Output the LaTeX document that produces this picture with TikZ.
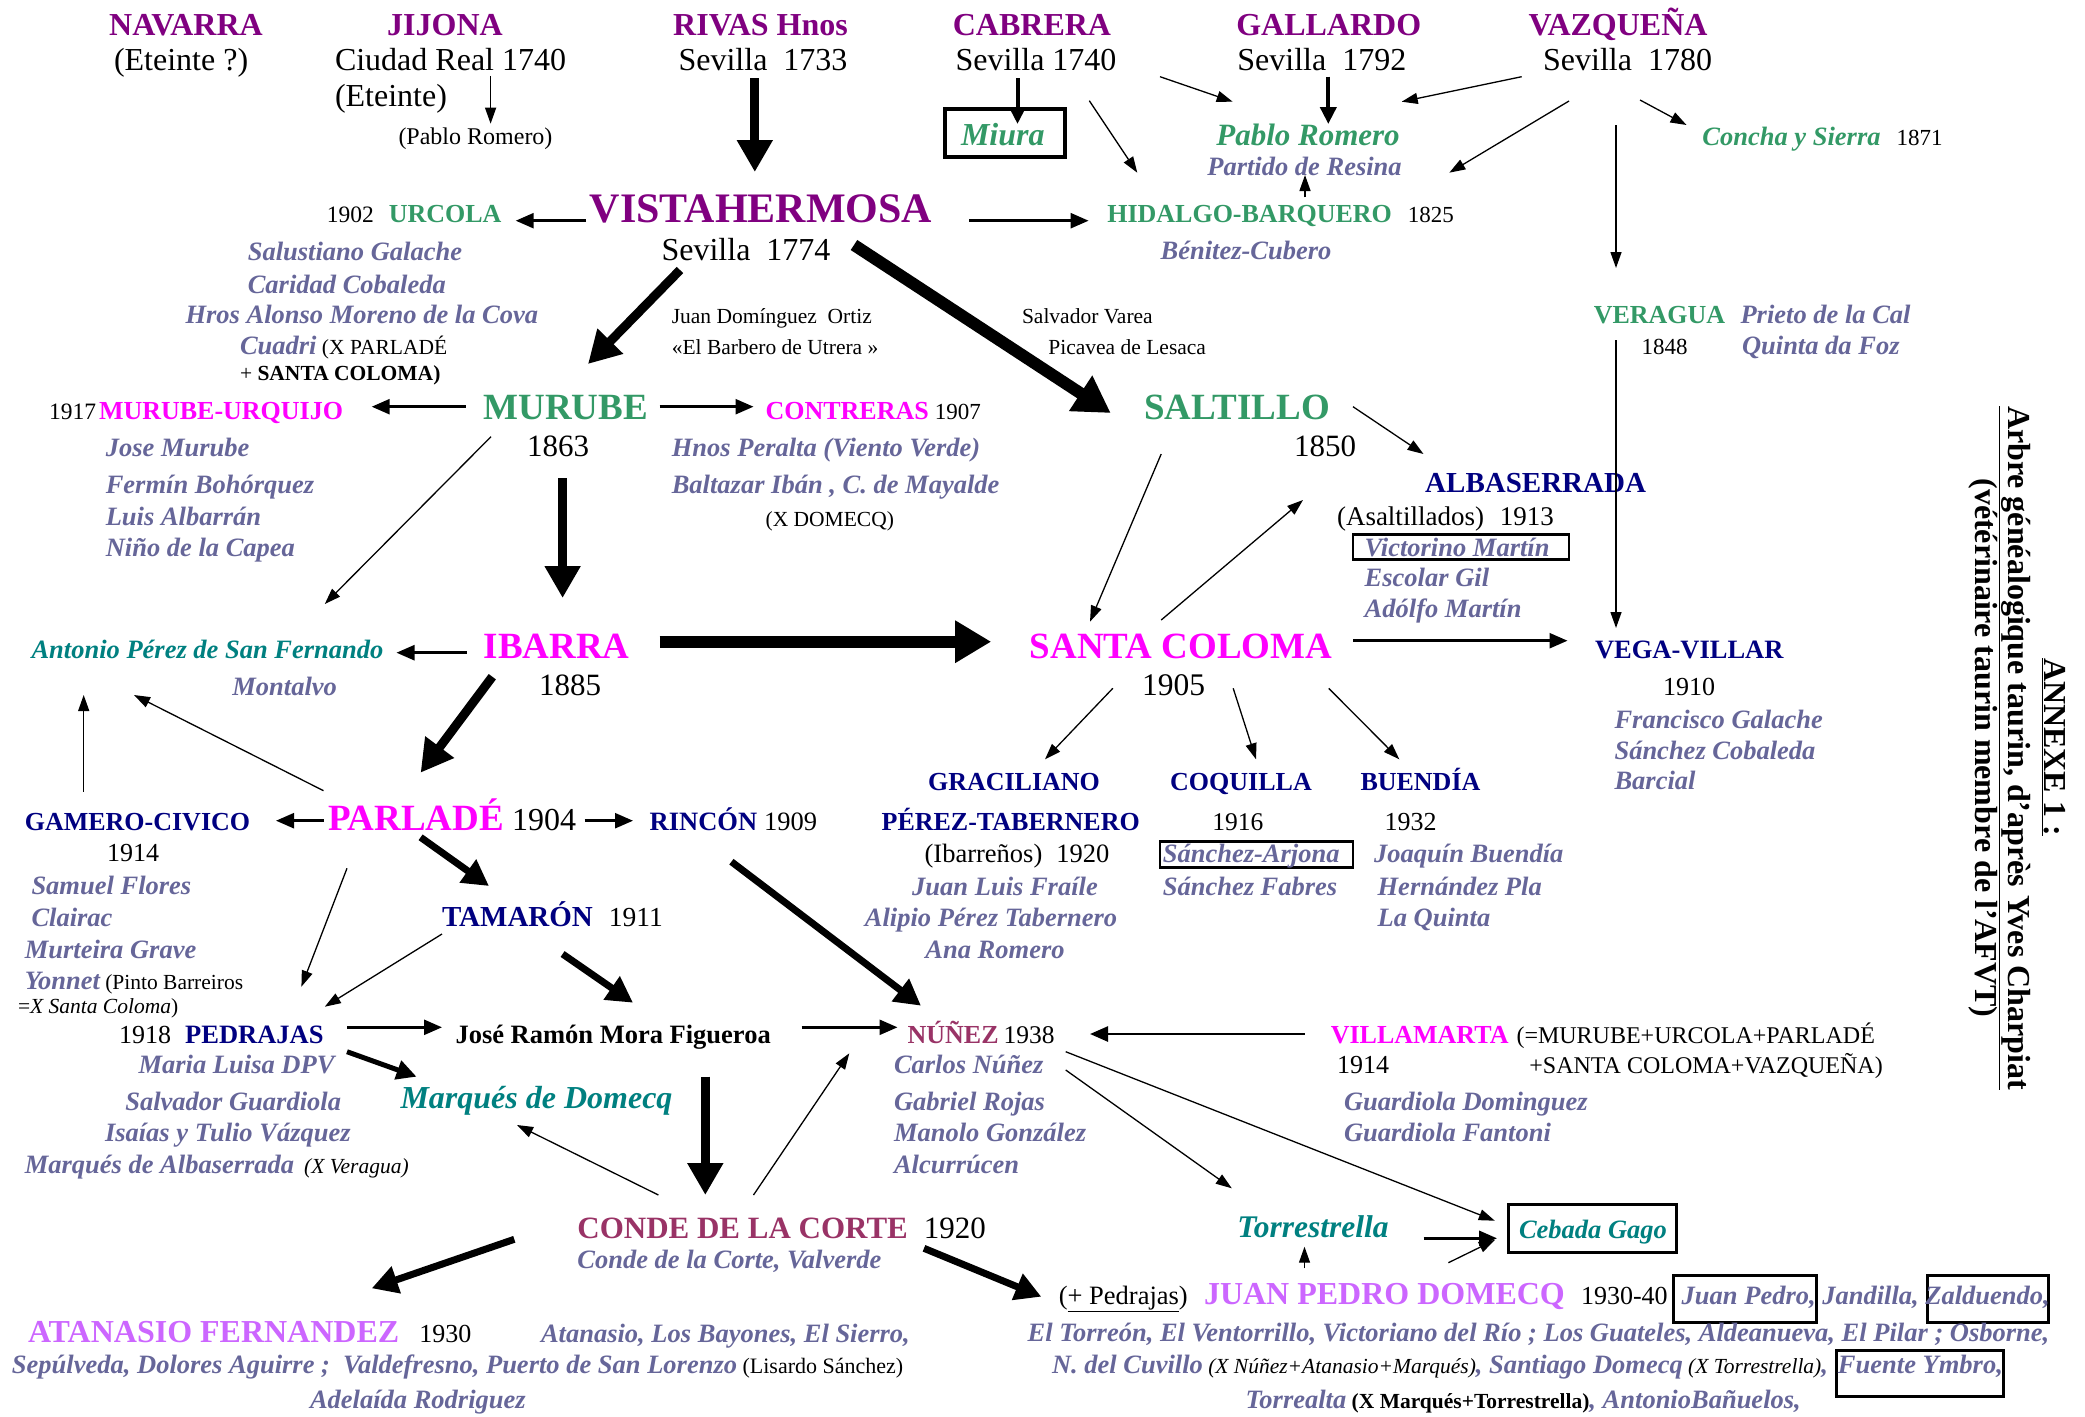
\documentclass[tikz,border=0pt]{standalone}
\usepackage{fontspec}
\setmainfont{Liberation Serif}
\usetikzlibrary{arrows.meta}
\definecolor{cpurp}{HTML}{800080}
\definecolor{cgreen}{HTML}{339966}
\definecolor{cgray}{HTML}{666699}
\definecolor{cmag}{HTML}{FF00FF}
\definecolor{cnavy}{HTML}{000080}
\definecolor{cteal}{HTML}{008080}
\definecolor{cplum}{HTML}{993366}
\definecolor{cviol}{HTML}{CC66FF}
\newcommand\fs[1]{\fontsize{#1}{#1}\selectfont}
\newcommand\BI{\bfseries\itshape}
\newcommand\gi[1]{{\fs{26.5}\BI\color{cgray}#1}}
\tikzset{
  L/.style={anchor=base west},
  C/.style={anchor=base},
  top/.style={C,font=\fs{32}\bfseries,text=cpurp},
  reg/.style={font=\fs{32}},
  gname/.style={L,font=\fs{26.5}\BI,text=cgray},
  boxd/.style={draw,line width=2.5pt,inner sep=0pt},
  thinA/.style={-{Triangle[length=16pt,width=11pt]},line width=1.3pt},
  medA/.style={-{Triangle[length=18pt,width=15pt]},line width=2.5pt},
  medthA/.style={-{Triangle[length=17pt,width=16pt]},line width=4pt},
  semiA/.style={-{Triangle[length=20pt,width=19pt]},line width=5pt},
  thickB/.style={-{Triangle[length=26pt,width=27pt]},line width=7pt},
  thickA/.style={-{Triangle[length=32pt,width=34pt]},line width=9pt},
  vthickA/.style={-{Triangle[length=36pt,width=40pt]},line width=12pt},
}
\begin{document}
\begin{tikzpicture}[x=1pt,y=-1pt,every node/.style={inner sep=0pt,outer sep=0pt}]
\useasboundingbox (0,0) rectangle (2085,1416);
% ---------- top row
\node[top] (navarra) at (186,35) {NAVARRA};
\node[L,reg] (eteinteA) at (114,70) {(Eteinte ?)};
\node[top] (jijona) at (445,35) {JIJONA};
\node[L,reg] (ciudad) at (335,70) {Ciudad Real 1740};
\node[L,reg] (eteinteB) at (335,106.7) {(Eteinte)};
\node[L,font=\fs{24}] (pabloold) at (398.5,144) {(Pablo Romero)};
\node[top] (rivas) at (760.5,35) {RIVAS Hnos};
\node[C,reg] (sev1733) at (763,70) {Sevilla\ \ 1733};
\node[top] (cabrera) at (1032,35) {CABRERA};
\node[C,reg] (sev1740) at (1036,70) {Sevilla 1740};
\node[top] (gallardo) at (1328.7,35) {GALLARDO};
\node[C,reg] (sev1792) at (1321.8,70) {Sevilla\ \ 1792};
\node[top] (vazquena) at (1618,35) {VAZQUEÑA};
\node[C,reg] (sev1780) at (1627.6,70) {Sevilla\ \ 1780};
% ---------- second level
\node[boxd,line width=3.5pt,minimum width=120pt,minimum height=48pt] (miurabox) at (1005,133) {};
\node[L,font=\fs{32}\BI,text=cgreen] (miura) at (961,145) {Miura};
\node[C,font=\fs{31}\BI,text=cgreen] (pabloromero) at (1308,145) {Pablo Romero};
\node[C,font=\fs{26.5}\BI,text=cgray] (partido) at (1304.5,175.7) {Partido de Resina};
\node[L] (concha) at (1702.4,145) {{\fs{26.5}\BI\color{cgreen}Concha y Sierra}\hspace{16pt}{\fs{23}1871}};
\node[C,font=\fs{42}\bfseries,text=cpurp] (vista) at (761,222.7) {VISTAHERMOSA};
\node[C,reg] (sev1774) at (746,260) {Sevilla\ \ 1774};
\node[L] (urcola) at (326.8,222.7) {{\fs{23.5}1902}\hspace{15pt}{\fs{26}\bfseries\color{cgreen}URCOLA}};
\node[L] (hidalgo) at (1107.3,222.7) {{\fs{26}\bfseries\color{cgreen}HIDALGO-BARQUERO}\hspace{16pt}{\fs{23}1825}};
\node[C,font=\fs{26.5}\BI,text=cgray] (benitez) at (1246,259.3) {Bénitez-Cubero};
\node[gname] (salustiano) at (247.8,260) {Salustiano Galache};
\node[gname] (caridad) at (247.8,293) {Caridad Cobaleda};
\node[gname] (hros) at (185.5,323) {Hros Alonso Moreno de la Cova};
\node[L,font=\fs{21.5}] (cuadri) at (240,354) {\gi{Cuadri} (X PARLADÉ};
\node[L,font=\fs{21.5}] (santacolA) at (240,380) {+ \textbf{SANTA COLOMA)}};
\node[L,font=\fs{21.5}] (juandom) at (671.8,323) {Juan Domínguez\ \ Ortiz};
\node[L,font=\fs{21.5}] (barbero) at (671.8,354) {«El Barbero de Utrera »};
\node[L,font=\fs{21.5}] (salvador) at (1022,323.3) {Salvador Varea};
\node[L,font=\fs{21.5}] (picavea) at (1048.4,354) {Picavea de Lesaca};
\node[L,font=\fs{26}\bfseries,text=cgreen] (veragua) at (1593.8,323.3) {VERAGUA};
\node[gname] (prieto) at (1740.5,323.3) {Prieto de la Cal};
\node[L,font=\fs{23}] (y1848) at (1641.5,354) {1848};
\node[gname] (quinta) at (1742,354) {Quinta da Foz};
% ---------- MURUBE level
\node[L] (murubeurq) at (49,419.3) {{\fs{23.5}1917}\hspace{3pt}{\fs{26}\bfseries\color{cmag}MURUBE-URQUIJO}};
\node[C,font=\fs{37}\bfseries,text=cgreen] (murube) at (565.6,419.3) {MURUBE};
\node[C,font=\fs{31}] (y1863) at (558,456) {1863};
\node[L] (contreras) at (765.6,419.3) {{\fs{26}\bfseries\color{cmag}CONTRERAS}\hspace{6pt}{\fs{23}1907}};
\node[gname] (hnos) at (671.8,456.7) {Hnos Peralta (Viento Verde)};
\node[gname] (baltazar) at (671.8,493) {Baltazar Ibán , C. de Mayalde};
\node[L,font=\fs{21.5}] (xdomecq) at (765.6,526.7) {(X DOMECQ)};
\node[gname] (josemurube) at (105.8,456.7) {Jose Murube};
\node[gname] (fermin) at (105.8,493) {Fermín Bohórquez};
\node[gname] (luis) at (105.8,525.7) {Luis Albarrán};
\node[gname] (nino) at (105.8,556) {Niño de la Capea};
\node[C,font=\fs{37}\bfseries,text=cgreen] (saltillo) at (1237,419.3) {SALTILLO};
\node[C,font=\fs{31}] (y1850) at (1325,456) {1850};
\node[C,font=\fs{29}\bfseries,text=cnavy] (albaserrada) at (1535.6,492.7) {ALBASERRADA};
\node[L,font=\fs{27}] (asaltillados) at (1337,525.7) {(Asaltillados)\hspace{16pt}1913};
\node[boxd,minimum width=216pt,minimum height=25pt] (victbox) at (1461,547) {};
\node[gname] (victorino) at (1364.7,556) {Victorino Martín};
\node[gname] (escolar) at (1364.7,586.7) {Escolar Gil};
\node[gname] (adolfo) at (1364.7,617.3) {Adólfo Martín};
% ---------- IBARRA level
\node[L,font=\fs{26.5}\BI,text=cteal] (antonio) at (31.5,658.3) {Antonio Pérez de San Fernando};
\node[gname] (montalvo) at (232.4,695) {Montalvo};
\node[C,font=\fs{37}\bfseries,text=cmag] (ibarra) at (556.6,658.3) {IBARRA};
\node[C,font=\fs{31}] (y1885) at (570,695) {1885};
\node[C,font=\fs{37}\bfseries,text=cmag] (santacoloma) at (1181,658.3) {SANTA COLOMA};
\node[C,font=\fs{31.5}] (y1905) at (1173.7,695) {1905};
\node[L,font=\fs{26.5}\bfseries,text=cnavy] (vegavillar) at (1595,658.3) {VEGA-VILLAR};
\node[C,font=\fs{26}] (y1910) at (1689,695) {1910};
\node[gname] (francisco) at (1614.5,728.3) {Francisco Galache};
\node[gname] (sanchezcob) at (1614.5,759.3) {Sánchez Cobaleda};
\node[gname] (barcial) at (1614.5,789.3) {Barcial};
% ---------- GRACILIANO / COQUILLA / BUENDIA
\node[C,font=\fs{26}\bfseries,text=cnavy] (graciliano) at (1014,790) {GRACILIANO};
\node[C,font=\fs{26}\bfseries,text=cnavy] (coquilla) at (1241,790) {COQUILLA};
\node[L,font=\fs{26}\bfseries,text=cnavy] (buendia) at (1360.5,790) {BUENDÍA};
\node[C,font=\fs{26}\bfseries,text=cnavy] (pereztab) at (1010.7,830.7) {PÉREZ-TABERNERO};
\node[C,font=\fs{25.5}] (y1916) at (1237.8,830.7) {1916};
\node[C,font=\fs{26}] (y1932) at (1410.5,830.7) {1932};
\node[C,font=\fs{26.5}] (ibarrenos) at (1017,862.7) {(Ibarreños)\hspace{14pt}1920};
\node[boxd,minimum width=193pt,minimum height=26pt] (arjonabox) at (1256.7,854.7) {};
\node[gname] (arjona) at (1162.8,862.7) {Sánchez-Arjona};
\node[gname] (joaquin) at (1374.2,862.7) {Joaquín Buendía};
\node[C,font=\fs{26.5}\BI,text=cgray] (juanluis) at (1005,895) {Juan Luis Fraíle};
\node[gname] (sfabres) at (1162.8,895) {Sánchez Fabres};
\node[gname] (hpla) at (1377.6,895) {Hernández Pla};
\node[C,font=\fs{26.5}\BI,text=cgray] (alipio) at (991,926.7) {Alipio Pérez Tabernero};
\node[gname] (laquinta) at (1377.6,926.7) {La Quinta};
\node[C,font=\fs{26.5}\BI,text=cgray] (anaromero) at (995,958.3) {Ana Romero};
% ---------- PARLADE level
\node[L,font=\fs{26}\bfseries,text=cnavy] (gamero) at (24.8,830) {GAMERO-CIVICO};
\node[L,font=\fs{26}] (y1914a) at (107,861.7) {1914};
\node[gname] (samuel) at (31.5,894) {Samuel Flores};
\node[gname] (clairac) at (31.5,926) {Clairac};
\node[gname] (murteira) at (24.8,958.3) {Murteira Grave};
\node[L,font=\fs{21.5}] (yonnet) at (24.8,989) {\gi{Yonnet} (Pinto Barreiros};
\node[L,font=\fs{21.5}] (xsanta) at (18,1013.3) {=\textit{X Santa Coloma})};
\node[L] (parlade) at (328,830) {{\fs{37}\bfseries\color{cmag}PARLADÉ}\hspace{8pt}{\fs{32}1904}};
\node[L] (rincon) at (649.7,830) {{\fs{26.5}\bfseries\color{cnavy}RINCÓN}\hspace{7pt}{\fs{26.5}1909}};
\node[L] (tamaron) at (442,926) {{\fs{29}\bfseries\color{cnavy}TAMARÓN}\hspace{16pt}{\fs{27.5}1911}};
\node[L] (pedrajas) at (119.2,1043.3) {{\fs{26}1918}\hspace{14pt}{\fs{26.5}\bfseries\color{cnavy}PEDRAJAS}};
\node[L,font=\fs{26.5}\bfseries] (jrmf) at (455.5,1043.3) {José Ramón Mora Figueroa};
\node[L] (nunez) at (907.6,1043.3) {{\fs{26}\bfseries\color{cplum}NÚÑEZ}\hspace{5pt}{\fs{25.5}1938}};
\node[L] (villamarta) at (1330.8,1043.3) {{\fs{26}\bfseries\color{cmag}VILLAMARTA}\hspace{8pt}{\fs{24}(=MURUBE+URCOLA+PARLADÉ}};
\node[L,font=\fs{26}] (y1914b) at (1337,1073.3) {1914};
\node[L,font=\fs{24}] (scvaz) at (1529.4,1073.3) {+SANTA COLOMA+VAZQUEÑA)};
\node[gname] (marialuisa) at (138.6,1073.3) {Maria Luisa DPV};
\node[gname] (salvadorg) at (125.3,1110) {Salvador Guardiola};
\node[gname] (isaias) at (105,1141.7) {Isaías y Tulio Vázquez};
\node[L,font=\fs{21.5}] (marqalb) at (24.8,1173.3) {\gi{Marqués de Albaserrada}\hspace{10pt}\textit{(X Veragua)}};
\node[L,font=\fs{32}\BI,text=cteal] (marquesdom) at (400.5,1108.3) {Marqués de Domecq};
\node[gname] (carlos) at (894,1073.3) {Carlos Núñez};
\node[gname] (gabriel) at (894,1110) {Gabriel Rojas};
\node[gname] (manolo) at (894,1141.7) {Manolo González};
\node[gname] (alcurrucen) at (894,1173.3) {Alcurrúcen};
\node[gname] (gdominguez) at (1344,1110) {Guardiola Dominguez};
\node[gname] (gfantoni) at (1344,1141.7) {Guardiola Fantoni};
% ---------- bottom
\node[L] (conde) at (577.4,1238.3) {{\fs{31}\bfseries\color{cplum}CONDE DE LA CORTE}\hspace{16pt}{\fs{31}1920}};
\node[gname] (condevalv) at (577.4,1268.3) {Conde de la Corte, Valverde};
\node[L,font=\fs{31.5}\BI,text=cteal] (torrestrella) at (1237.4,1237.3) {Torrestrella};
\node[boxd,line width=3pt,minimum width=168pt,minimum height=48pt] (cebadabox) at (1592.5,1228.6) {};
\node[gname,text=cteal] (cebada) at (1519,1238.3) {Cebada Gago};
\node[L,font=\fs{26.5}] (pedrajasplus) at (1058.8,1304) {(\underline{+ Pedrajas})};
\node[L,font=\fs{32}\bfseries,text=cviol] (jpd) at (1204,1304) {JUAN PEDRO DOMECQ};
\node[L,font=\fs{26}] (y1930b) at (1581,1304) {1930-40};
\node[boxd,line width=3pt,minimum width=143pt,minimum height=47pt] (jpbox) at (1745,1298.5) {};
\node[boxd,line width=3pt,minimum width=121pt,minimum height=47pt] (zalbox) at (1987.5,1298.5) {};
\node[gname] (jpnames) at (1681.7,1304) {Juan Pedro, Jandilla, Zalduendo,};
\node[gname] (torreon) at (1027.7,1341.7) {El Torreón, El Ventorrillo, Victoriano del Río ; Los Guateles, Aldeanueva, El Pilar ; Osborne,};
\node[boxd,line width=3pt,minimum width=167pt,minimum height=46pt] (fuentebox) at (1919.5,1373) {};
\node[L,font=\fs{21.5}] (cuvillo) at (1052,1373.3) {\gi{N. del Cuvillo} \textit{(X Núñez+Atanasio+Marqués)}\gi{, Santiago Domecq} \textit{(X Torrestrella)}\gi{,\hspace{10pt}Fuente Ymbro,}};
\node[L,font=\fs{21.5}] (torrealta) at (1245.7,1408.3) {\gi{Torrealta} \textbf{(X Marqués+Torrestrella)}\gi{, AntonioBañuelos,}};
\node[L] (atanasio) at (28,1342.7) {{\fs{32}\bfseries\color{cviol}ATANASIO FERNANDEZ}\hspace{20pt}{\fs{26}1930}};
\node[gname] (atanasioB) at (541,1342.7) {Atanasio, Los Bayones, El Sierro,};
\node[L,font=\fs{22}] (sepulveda) at (12,1373.3) {\gi{Sepúlveda, Dolores Aguirre ;\ \ Valdefresno, Puerto de San Lorenzo} (Lisardo Sánchez)};
\node[gname] (adelaida) at (310,1408.3) {Adelaída Rodriguez};
% ---------- title (rotated)
\node[C,rotate=-90,font=\fs{32}\bfseries] (annexe) at (2044,747) {\underline{ANNEXE 1 :}};
\node[C,rotate=-90,font=\fs{32}\bfseries] (arbre) at (2008,748) {\underline{Arbre généalogique taurin, d’après Yves Charpiat}};
\node[C,rotate=-90,font=\fs{32}\bfseries] (veterinaire) at (1975,748) {(vétérinaire taurin membre de l’AFVT)};
% ---------- connector end points
\coordinate (a1s) at (490.6,75.8);   \coordinate (a1e) at (490.6,123.7);
\coordinate (a2s) at (754.8,78);     \coordinate (a2e) at (754.8,172);
\coordinate (a3s) at (1017.5,78);    \coordinate (a3e) at (1017.5,124);
\coordinate (a4s) at (1160,76.7);    \coordinate (a4e) at (1232.7,101.7);
\coordinate (a5s) at (1089.3,100.7); \coordinate (a5e) at (1137.3,172.7);
\coordinate (a6s) at (1328.3,76.7);  \coordinate (a6e) at (1328.3,124);
\coordinate (a7s) at (1521.7,76.7);  \coordinate (a7e) at (1401.7,101.7);
\coordinate (a8s) at (1569,101);     \coordinate (a8e) at (1449.3,172.7);
\coordinate (a9s) at (1305,197.3);   \coordinate (a9e) at (1305,175);
\coordinate (a10s) at (1640,100);    \coordinate (a10e) at (1686.5,125);
\coordinate (a11s) at (1616,125);    \coordinate (a11e) at (1616,268);
\coordinate (a12s) at (1616,340);    \coordinate (a12e) at (1616,628);
\coordinate (a13s) at (586,220.7);   \coordinate (a13e) at (515.7,220.7);
\coordinate (a14s) at (969,220.7);   \coordinate (a14e) at (1088.6,220.7);
\coordinate (a15s) at (680,270);     \coordinate (a15e) at (588,364);
\coordinate (a16s) at (854,245);     \coordinate (a16e) at (1110.7,413);
\coordinate (a17s) at (465.5,406.7); \coordinate (a17e) at (371.7,406.7);
\coordinate (a18s) at (659.7,406.7); \coordinate (a18e) at (753.5,406.7);
\coordinate (a19s) at (491,436.7);   \coordinate (a19e) at (324.8,604);
\coordinate (a20s) at (562.6,478);   \coordinate (a20e) at (562.6,598);
\coordinate (a21s) at (466.8,652.7); \coordinate (a21e) at (396.5,652.7);
\coordinate (a22s) at (659.7,641.7); \coordinate (a22e) at (991.2,641.7);
\coordinate (a23s) at (492.3,676.7); \coordinate (a23e) at (420.6,772.7);
\coordinate (a24s) at (323.5,790.7); \coordinate (a24e) at (134,695);
\coordinate (a25s) at (83.7,791.7);  \coordinate (a25e) at (83.7,695);
\coordinate (a26s) at (1353,406.7);  \coordinate (a26e) at (1423.5,454);
\coordinate (a27s) at (1161.2,454);  \coordinate (a27e) at (1090,621.7);
\coordinate (a28s) at (1161.2,620);  \coordinate (a28e) at (1303,500);
\coordinate (a29s) at (1353,640.7);  \coordinate (a29e) at (1567.5,640.7);
\coordinate (a30s) at (1112.8,688.3); \coordinate (a30e) at (1045,759.3);
\coordinate (a31s) at (1233.2,688.3); \coordinate (a31e) at (1256,759.3);
\coordinate (a32s) at (1328.7,688.3); \coordinate (a32e) at (1399.3,759.3);
\coordinate (a33s) at (323.5,820.7); \coordinate (a33e) at (276,820.7);
\coordinate (a34s) at (584.7,820.7); \coordinate (a34e) at (633,820.7);
\coordinate (a35s) at (420.6,837.3); \coordinate (a35e) at (489,886);
\coordinate (a36s) at (347,868.3);   \coordinate (a36e) at (301.4,986.7);
\coordinate (a37s) at (442,934);     \coordinate (a37e) at (324.8,1006.7);
\coordinate (a38s) at (562.6,954);   \coordinate (a38e) at (633,1002.7);
\coordinate (a39s) at (731.4,861.7); \coordinate (a39e) at (921,1005.7);
\coordinate (a40s) at (347,1027.3);  \coordinate (a40e) at (442,1027.3);
\coordinate (a41s) at (347,1051.7);  \coordinate (a41e) at (416.6,1076.7);
\coordinate (a42s) at (801.7,1027.3); \coordinate (a42e) at (897.5,1027.3);
\coordinate (a43s) at (705.3,1076.7); \coordinate (a43e) at (705.3,1195);
\coordinate (a44s) at (658.4,1195);  \coordinate (a44e) at (517,1125);
\coordinate (a45s) at (753.5,1195);  \coordinate (a45e) at (849.3,1053.3);
\coordinate (a46s) at (1304.5,1034); \coordinate (a46e) at (1090,1034);
\coordinate (a47s) at (1065.7,1070); \coordinate (a47e) at (1231.8,1188.3);
\coordinate (a48s) at (1065.7,1051.7); \coordinate (a48e) at (1494.8,1220.7);
\coordinate (a49s) at (1423.5,1238.3); \coordinate (a49e) at (1497,1238.3);
\coordinate (a50s) at (1448.4,1262.7); \coordinate (a50e) at (1494.8,1240);
\coordinate (a51s) at (1304.5,1268.3); \coordinate (a51e) at (1304.5,1246.7);
\coordinate (a52s) at (514.3,1239.3); \coordinate (a52e) at (371.7,1288.3);
\coordinate (a53s) at (924,1248.3);  \coordinate (a53e) at (1041.3,1296.7);
% ---------- connectors
\draw[thinA] (a1s) -- (a1e);
\draw[thickA] (a2s) -- (a2e);
\draw[medthA] (a3s) -- (a3e);
\draw[thinA] (a4s) -- (a4e);
\draw[thinA] (a5s) -- (a5e);
\draw[medthA] (a6s) -- (a6e);
\draw[thinA] (a7s) -- (a7e);
\draw[thinA] (a8s) -- (a8e);
\draw[thinA] (a9s) -- (a9e);
\draw[thinA] (a10s) -- (a10e);
\draw[thinA] (a11s) -- (a11e);
\draw[thinA] (a12s) -- (a12e);
\draw[medA] (a13s) -- (a13e);
\draw[medA] (a14s) -- (a14e);
\draw[thickA] (a15s) -- (a15e);
\draw[vthickA] (a16s) -- (a16e);
\draw[medA] (a17s) -- (a17e);
\draw[medA] (a18s) -- (a18e);
\draw[thinA] (a19s) -- (a19e);
\draw[thickA] (a20s) -- (a20e);
\draw[medA] (a21s) -- (a21e);
\draw[vthickA] (a22s) -- (a22e);
\draw[thickA] (a23s) -- (a23e);
\draw[thinA] (a24s) -- (a24e);
\draw[thinA] (a25s) -- (a25e);
\draw[thinA] (a26s) -- (a26e);
\draw[thinA] (a27s) -- (a27e);
\draw[thinA] (a28s) -- (a28e);
\draw[medA] (a29s) -- (a29e);
\draw[thinA] (a30s) -- (a30e);
\draw[thinA] (a31s) -- (a31e);
\draw[thinA] (a32s) -- (a32e);
\draw[medA] (a33s) -- (a33e);
\draw[medA] (a34s) -- (a34e);
\draw[thickB] (a35s) -- (a35e);
\draw[thinA] (a36s) -- (a36e);
\draw[thinA] (a37s) -- (a37e);
\draw[thickB] (a38s) -- (a38e);
\draw[thickB] (a39s) -- (a39e);
\draw[medA] (a40s) -- (a40e);
\draw[semiA] (a41s) -- (a41e);
\draw[medA] (a42s) -- (a42e);
\draw[thickA] (a43s) -- (a43e);
\draw[thinA] (a44s) -- (a44e);
\draw[thinA] (a45s) -- (a45e);
\draw[medA] (a46s) -- (a46e);
\draw[thinA] (a47s) -- (a47e);
\draw[thinA] (a48s) -- (a48e);
\draw[medA] (a49s) -- (a49e);
\draw[thinA] (a50s) -- (a50e);
\draw[thinA] (a51s) -- (a51e);
\draw[thickB] (a52s) -- (a52e);
\draw[thickB] (a53s) -- (a53e);
\end{tikzpicture}
\end{document}
